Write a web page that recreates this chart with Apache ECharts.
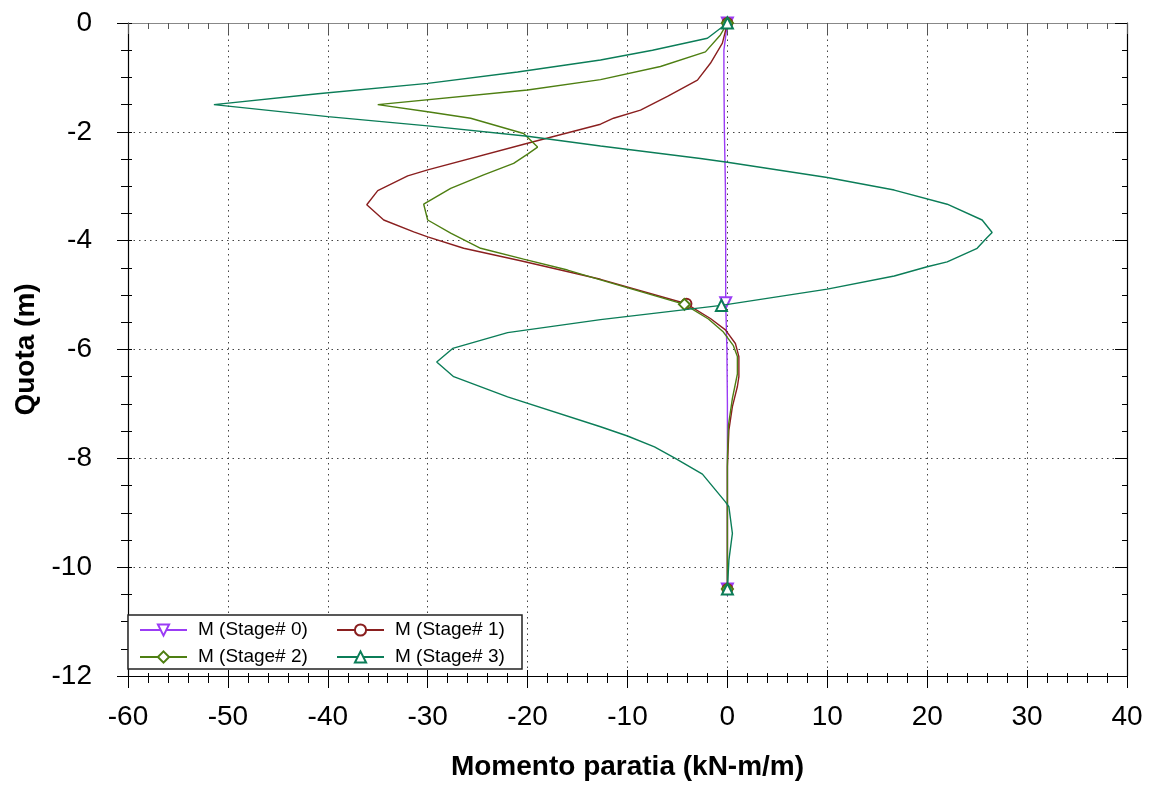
<!DOCTYPE html>
<html>
<head>
<meta charset="utf-8">
<script src="https://cdn.jsdelivr.net/npm/echarts@6/dist/echarts.min.js"></script>
<style>
html,body{margin:0;padding:0;background:#fff;}
#chart{width:1149px;height:789px;}
</style>
</head>
<body>
<div id="chart"></div>
<script>
// ---- Data (moment kN-m/m, depth m) ----
const seriesNames = ['M (Stage# 0)', 'M (Stage# 1)', 'M (Stage# 2)', 'M (Stage# 3)'];

const q0 = [0, -0.5, -1, -2, -3, -4, -5.14, -6, -7, -8, -10.4];
const m0 = [0, -0.35, -0.35, -0.3, -0.2, -0.17, -0.17, -0.05, 0, 0, 0];
const marks0 = [0, 6, 10];

const q1 = [0, -0.37, -0.74, -1.05, -1.35, -1.6, -1.75, -1.86, -2.21, -2.7, -2.81, -3.08, -3.34, -3.62, -3.84, -3.93, -4.14, -4.37, -4.71, -5.16, -5.43, -5.64, -5.89, -6.13, -6.5, -6.68, -7.05, -7.48, -8.15, -10.4];
const m1 = [0, -0.5, -1.7, -3, -6, -8.7, -11.4, -12.7, -20, -30, -32, -35, -36.1, -34.4, -31.4, -30, -26.4, -20.7, -12.7, -4.1, -1.7, -0.2, 0.8, 1.15, 1.15, 1.0, 0.5, 0.15, 0, 0];
const marks1 = [0, 19, 29];

const q2 = [0, -0.22, -0.53, -0.8, -1.04, -1.23, -1.5, -1.63, -1.75, -2.03, -2.28, -2.41, -2.58, -2.79, -3.04, -3.33, -3.62, -3.86, -4.14, -4.34, -4.54, -4.72, -5.17, -5.44, -5.68, -5.93, -6.13, -6.45, -6.9, -7.4, -8.0, -10.4];
const m2 = [0, -0.7, -2.2, -6.7, -12.7, -20, -35, -30, -25.7, -20.4, -19, -20, -21.4, -24.4, -27.7, -30.4, -30, -27.7, -24.7, -20.4, -16, -12.7, -4.3, -1.9, -0.4, 0.6, 1.0, 1.0, 0.5, 0.1, 0, 0];
const marks2 = [0, 22, 31];

const q3 = [0, -0.28, -0.5, -0.68, -0.9, -1.11, -1.3, -1.5, -1.72, -1.89, -2.08, -2.26, -2.49, -2.56, -2.84, -3.07, -3.33, -3.62, -3.85, -3.94, -4.14, -4.39, -4.48, -4.65, -4.89, -5.19, -5.45, -5.69, -5.98, -6.23, -6.5, -6.87, -7.42, -7.59, -7.79, -7.99, -8.29, -8.8, -8.89, -9.38, -9.87, -10.4];
const m3 = [0, -2, -7.5, -12.7, -21, -30, -41, -51.4, -40, -30, -20, -12.7, -2.7, 0, 10, 16.7, 22, 25.5, 26.5, 26, 25, 22, 20, 16.7, 10, -0.6, -12.7, -22, -27.5, -29.1, -27.4, -22, -12.7, -10, -7.3, -5.3, -2.5, -0.2, 0.15, 0.5, 0.15, 0];
const marks3 = [0, 25, 41];

const xTicks = {min: -60, max: 40, interval: 10};
const yTicks = {min: -12, max: 0, interval: 2};

// ---- Chart ----
const chart = echarts.init(document.getElementById('chart'), null, {renderer: 'canvas'});
const colors = ['#9b3cf5', '#8a1f1f', '#4e7f12', '#0b7d58'];
const symbols = ['emptyTriangle', 'emptyCircle', 'emptyDiamond', 'emptyTriangle'];
const rotates = [180, 0, 0, 0];
const allM = [m0, m1, m2, m3];
const allQ = [q0, q1, q2, q3];
const allMarks = [marks0, marks1, marks2, marks3];
const labelFont = "'Liberation Sans', Arial, sans-serif";
const titleFont = "'Liberation Sans', Arial, sans-serif";

const series = allM.map((m, s) => ({
  type: 'line',
  name: seriesNames[s],
  data: m.map((v, i) => [v, allQ[s][i]]),
  xAxisIndex: 0,
  yAxisIndex: 0,
  symbol: symbols[s],
  symbolRotate: rotates[s],
  symbolSize: (val, p) => allMarks[s].includes(p.dataIndex) ? (s === 1 ? 10 : 11) : 0,
  showAllSymbol: true,
  lineStyle: {width: 1.4, color: colors[s]},
  itemStyle: {color: colors[s], borderWidth: 1.2},
  emphasis: {disabled: true},
  animation: false,
  z: 2 + s
}));

const noZero = {onZero: false};
const xBase = Object.assign({type: 'value', gridIndex: 0, splitLine: {show: false}, axisLabel: {show: false}}, xTicks);
const yBase = Object.assign({type: 'value', gridIndex: 0, splitLine: {show: false}, axisLabel: {show: false}}, yTicks);
const dots = {type: [1.5, 4], color: '#444', width: 1};

const option = {
  backgroundColor: '#fff',
  animation: false,
  grid: {left: 128, right: 22, top: 23, bottom: 113, containLabel: false},
  xAxis: [
    Object.assign({}, xBase, {
      position: 'bottom',
      axisLine: Object.assign({lineStyle: {color: '#000', width: 1.2}}, noZero),
      axisTick: {inside: false, length: 12, lineStyle: {color: '#000'}},
      minorTick: {show: true, splitNumber: 5, length: 7, lineStyle: {color: '#000'}},
      axisLabel: {show: true, margin: 27, fontSize: 28, fontFamily: labelFont, color: '#000'},
      splitLine: {show: true, lineStyle: dots},
      name: 'Momento paratia (kN-m/m)',
      nameLocation: 'middle',
      nameGap: 77,
      nameTextStyle: {fontSize: 28, fontWeight: 'bold', fontFamily: titleFont, color: '#000'}
    }),
    Object.assign({}, xBase, {
      position: 'bottom',
      axisLine: {show: false, onZero: false},
      axisTick: {inside: true, length: 6, lineStyle: {color: '#000'}},
      minorTick: {show: true, splitNumber: 5, length: 3, lineStyle: {color: '#000'}}
    }),
    Object.assign({}, xBase, {
      position: 'top',
      axisLine: Object.assign({lineStyle: {color: '#888', width: 1.2}}, noZero),
      axisTick: {inside: true, length: 11, lineStyle: {color: '#555'}},
      minorTick: {show: true, splitNumber: 5, length: 6, lineStyle: {color: '#555'}}
    })
  ],
  yAxis: [
    Object.assign({}, yBase, {
      position: 'left',
      axisLine: Object.assign({lineStyle: {color: '#000', width: 1.2}}, noZero),
      axisTick: {inside: false, length: 11, lineStyle: {color: '#000'}},
      minorTick: {show: true, splitNumber: 4, length: 7, lineStyle: {color: '#000'}},
      axisLabel: {show: true, margin: 36, fontSize: 28, fontFamily: labelFont, color: '#000'},
      splitLine: {show: true, lineStyle: dots},
      name: 'Quota (m)',
      nameLocation: 'middle',
      nameGap: 78,
      nameTextStyle: {fontSize: 28, fontWeight: 'bold', fontFamily: titleFont, color: '#000'}
    }),
    Object.assign({}, yBase, {
      position: 'left',
      axisLine: {show: false, onZero: false},
      axisTick: {inside: true, length: 4, lineStyle: {color: '#000'}},
      minorTick: {show: true, splitNumber: 4, length: 4, lineStyle: {color: '#000'}}
    }),
    Object.assign({}, yBase, {
      position: 'right',
      axisLine: Object.assign({lineStyle: {color: '#000', width: 1.2}}, noZero),
      axisTick: {inside: true, length: 12, lineStyle: {color: '#000'}},
      minorTick: {show: true, splitNumber: 4, length: 5, lineStyle: {color: '#000'}}
    })
  ],
  graphic: [{
    type: 'rect',
    z: 3,
    shape: {x: 128, y: 615, width: 394, height: 54},
    style: {fill: '#fff', stroke: '#222', lineWidth: 1.5}
  }],
  legend: [
    {
      data: [seriesNames[0], seriesNames[2]],
      orient: 'vertical', left: 134, top: 615, itemWidth: 47, itemHeight: 14, itemGap: 7,
      z: 10, selectedMode: false,
      textStyle: {fontSize: 19, fontFamily: titleFont, color: '#000', lineHeight: 20, padding: [0, 0, 0, 6]}
    },
    {
      data: [seriesNames[1], seriesNames[3]],
      orient: 'vertical', left: 331, top: 615, itemWidth: 47, itemHeight: 14, itemGap: 7,
      z: 10, selectedMode: false,
      textStyle: {fontSize: 19, fontFamily: titleFont, color: '#000', lineHeight: 20, padding: [0, 0, 0, 6]}
    }
  ],
  series: series
};
chart.setOption(option);
</script>
</body>
</html>
